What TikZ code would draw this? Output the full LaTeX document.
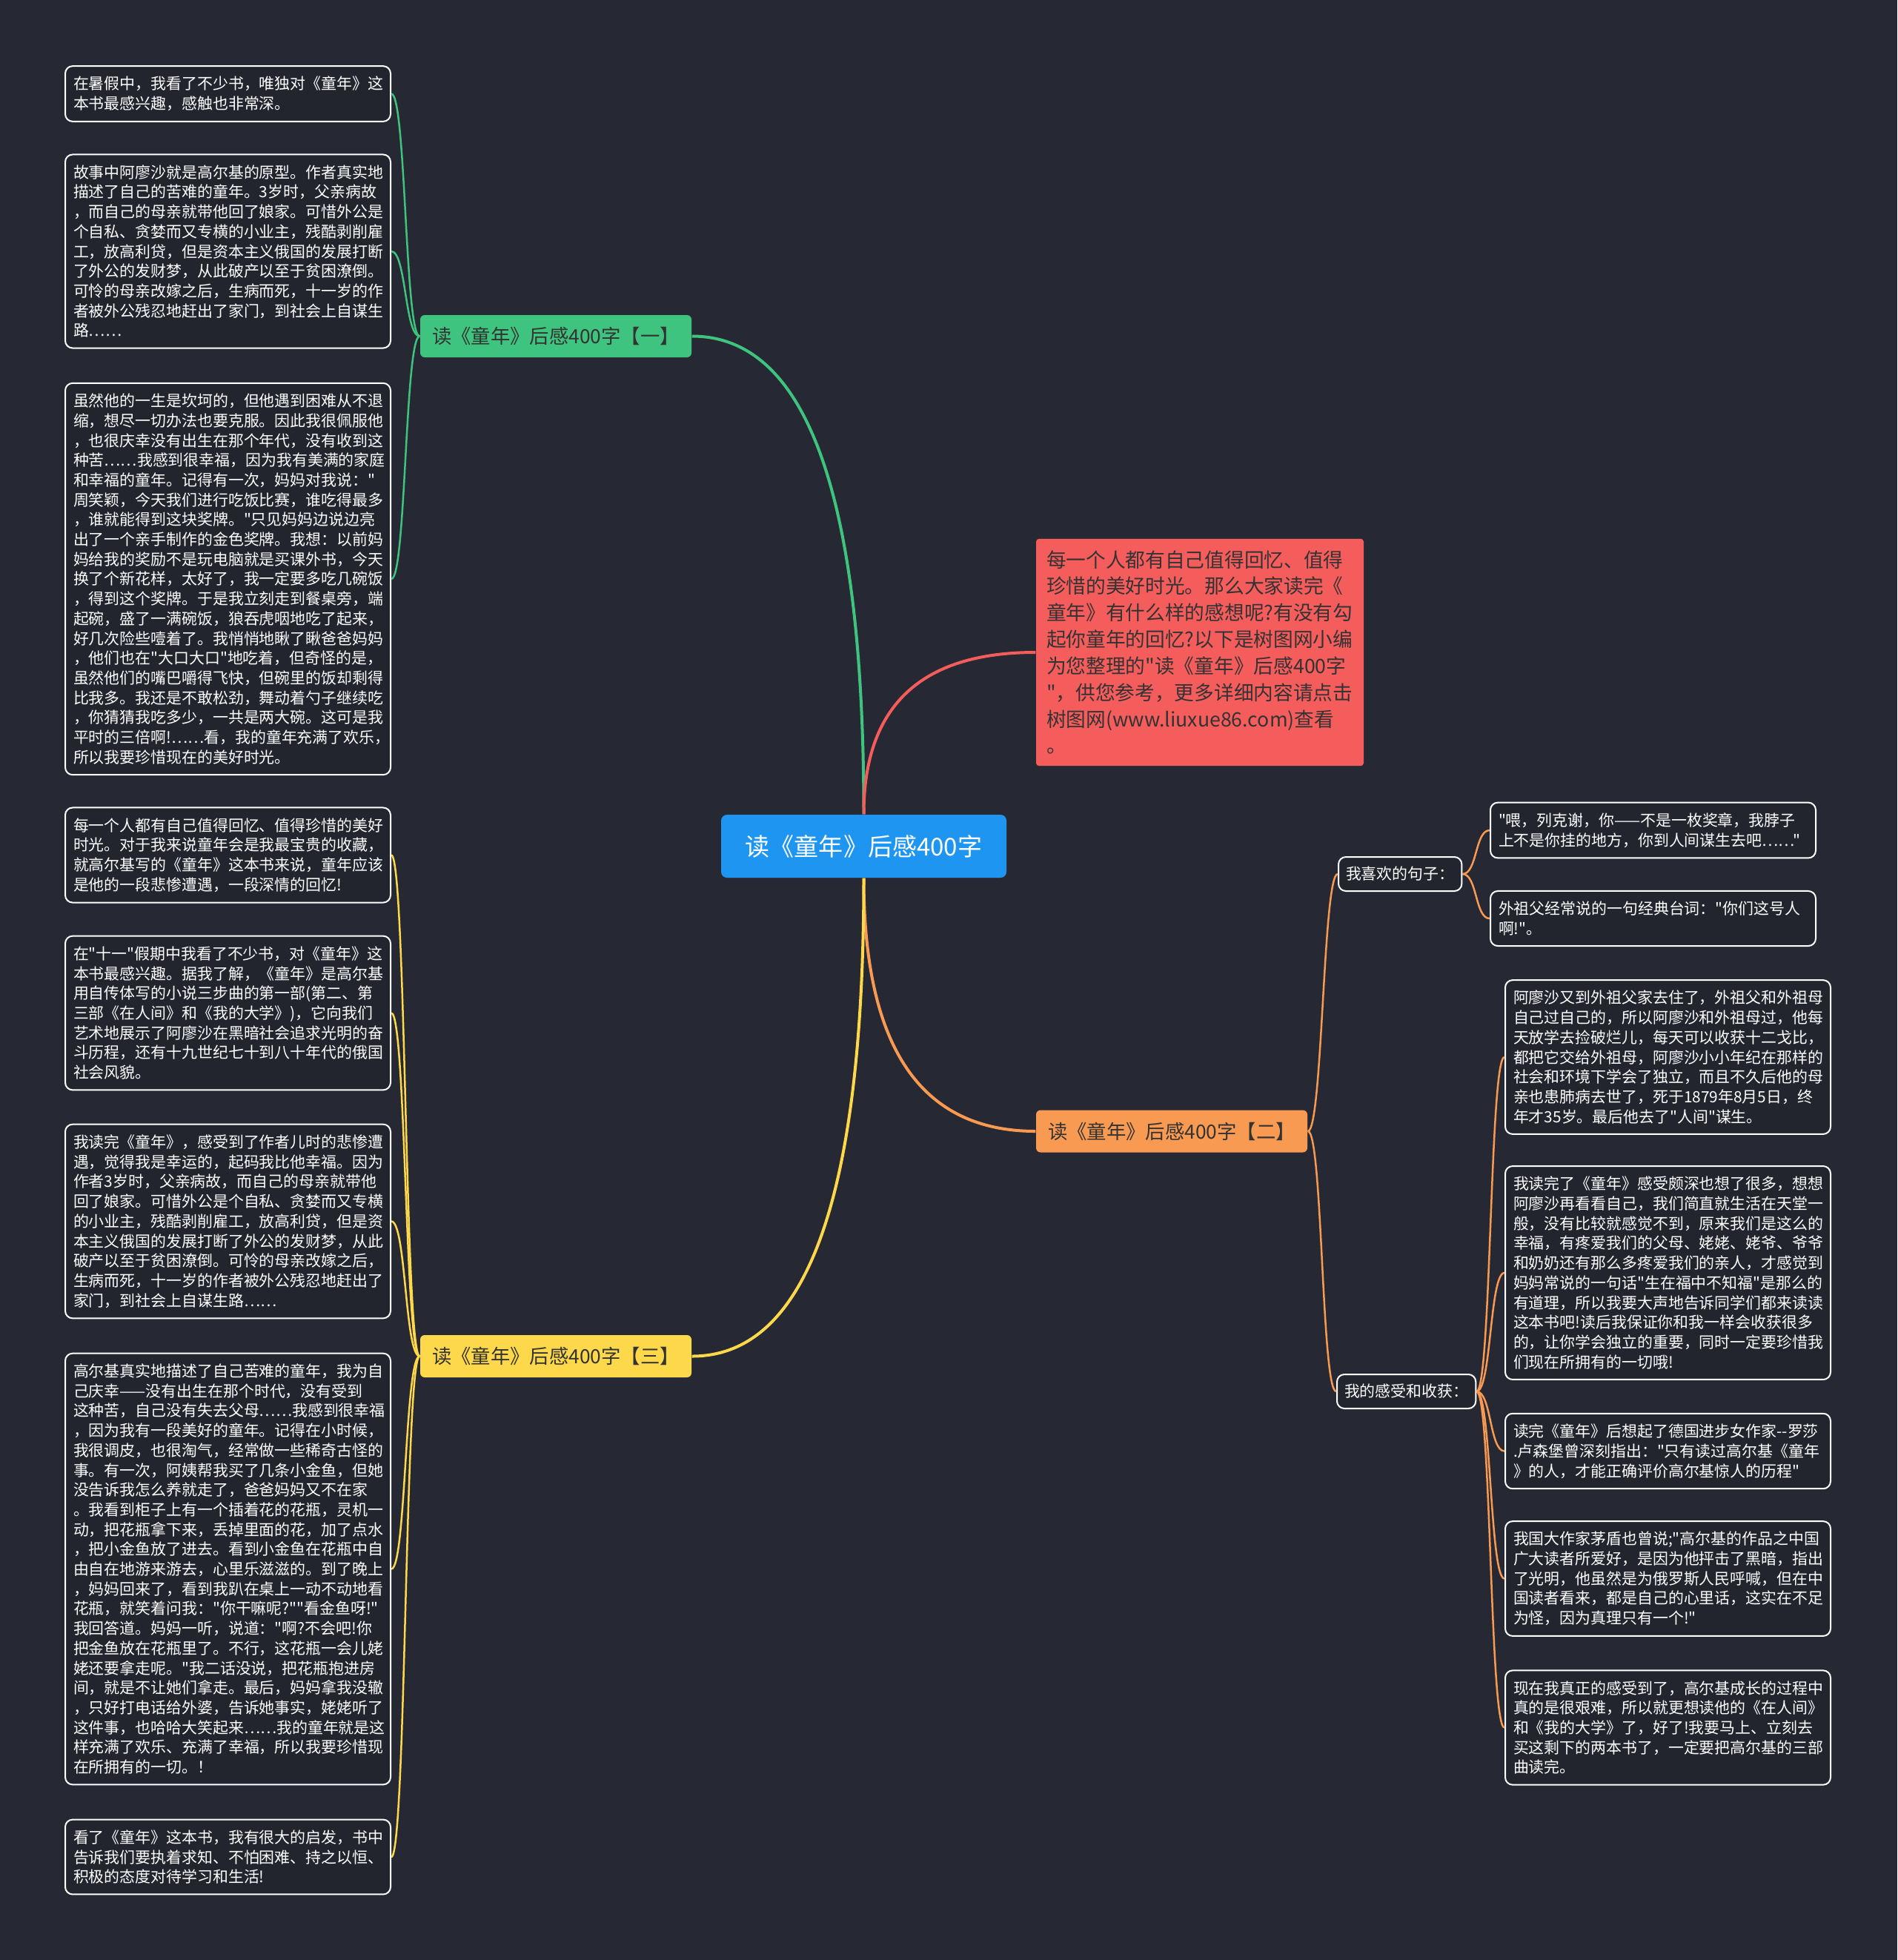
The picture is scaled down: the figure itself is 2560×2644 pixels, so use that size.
\documentclass[tikz,border=0pt]{standalone}
\usepackage{fontspec}
\newfontfamily\cjk{Noto Sans CJK SC}[Ligatures=TeXOff]
\usepackage{tikz}
\usetikzlibrary{positioning}
\usepackage{xcolor}
\definecolor{bgdark}{HTML}{262933}
\definecolor{leafdark}{HTML}{22252E}
\definecolor{rootblue}{HTML}{1F95F2}
\definecolor{introred}{HTML}{F55D5D}
\definecolor{brgreen}{HTML}{3FC47F}
\definecolor{brorange}{HTML}{F99A52}
\definecolor{bryellow}{HTML}{FCD84A}
\definecolor{darktext}{HTML}{333333}

\begin{document}
\begin{tikzpicture}[x=0.1mm, y=-0.1mm,
    leaf/.style={draw=white, line width=0.2mm, fill=leafdark, rounded corners=1mm, text=white, text width=41.7mm, align=left, inner xsep=1.1mm, inner ysep=1.4mm, font=\cjk\fontsize{5.95}{7.6}\selectfont},
    sublabel/.style={draw=white, line width=0.2mm, fill=leafdark, rounded corners=1mm, text=white, inner xsep=1mm, minimum height=4.6mm, font=\cjk\fontsize{5.95}{7.6}\selectfont},
    branch/.style={fill=#1, rounded corners=0.6mm, text=darktext, minimum width=36.6mm, minimum height=5.7mm, inner sep=0.5mm, font=\cjk\fontsize{7.5}{9}\selectfont},
    limb/.style={draw=#1, line width=0.4mm},
    twig/.style={draw=#1, line width=0.25mm}]
\fill[bgdark] (0,0) rectangle (2560,2644);

% centre and first level
\node[fill=rootblue, rounded corners=0.8mm, text=white, minimum width=38.5mm, minimum height=8.5mm, font=\cjk\fontsize{9.4}{11}\selectfont] (root) at (1165.5,1141.5) {读《童年》后感400字};
\node[fill=introred, rounded corners=0.4mm, text=darktext, text width=41.4mm, align=left, inner xsep=1.4mm, inner ysep=1.56mm, font=\cjk\fontsize{7.6}{10.2}\selectfont] (intro) at (1619,880) {每一个人都有自己值得回忆、值得\\珍惜的美好时光。那么大家读完《\\童年》有什么样的感想呢?有没有勾\\起你童年的回忆?以下是树图网小编\\为您整理的"读《童年》后感400字\\"，供您参考，更多详细内容请点击\\树图网(www.liuxue86.com)查看\\。};
\node[branch=brgreen] (br1) at (750,453.5) {读《童年》后感400字【一】};
\node[branch=brorange] (br2) at (1581,1526) {读《童年》后感400字【二】};
\node[branch=bryellow] (br3) at (750,1829.5) {读《童年》后感400字【三】};

% left leaves
\node[leaf, anchor=east] (l1) at (528,126.5) {在暑假中，我看了不少书，唯独对《童年》这\\本书最感兴趣，感触也非常深。};
\node[leaf, anchor=east] (l2) at (528,339) {故事中阿廖沙就是高尔基的原型。作者真实地\\描述了自己的苦难的童年。3岁时，父亲病故\\，而自己的母亲就带他回了娘家。可惜外公是\\个自私、贪婪而又专横的小业主，残酷剥削雇\\工，放高利贷，但是资本主义俄国的发展打断\\了外公的发财梦，从此破产以至于贫困潦倒。\\可怜的母亲改嫁之后，生病而死，十一岁的作\\者被外公残忍地赶出了家门，到社会上自谋生\\路……};
\node[leaf, anchor=east] (l3) at (528,781) {虽然他的一生是坎坷的，但他遇到困难从不退\\缩，想尽一切办法也要克服。因此我很佩服他\\，也很庆幸没有出生在那个年代，没有收到这\\种苦……我感到很幸福，因为我有美满的家庭\\和幸福的童年。记得有一次，妈妈对我说："\\周笑颖，今天我们进行吃饭比赛，谁吃得最多\\，谁就能得到这块奖牌。"只见妈妈边说边亮\\出了一个亲手制作的金色奖牌。我想：以前妈\\妈给我的奖励不是玩电脑就是买课外书，今天\\换了个新花样，太好了，我一定要多吃几碗饭\\，得到这个奖牌。于是我立刻走到餐桌旁，端\\起碗，盛了一满碗饭，狼吞虎咽地吃了起来，\\好几次险些噎着了。我悄悄地瞅了瞅爸爸妈妈\\，他们也在"大口大口"地吃着，但奇怪的是，\\虽然他们的嘴巴嚼得飞快，但碗里的饭却剩得\\比我多。我还是不敢松劲，舞动着勺子继续吃\\，你猜猜我吃多少，一共是两大碗。这可是我\\平时的三倍啊!……看，我的童年充满了欢乐，\\所以我要珍惜现在的美好时光。};
\node[leaf, anchor=east] (l4) at (528,1153.5) {每一个人都有自己值得回忆、值得珍惜的美好\\时光。对于我来说童年会是我最宝贵的收藏，\\就高尔基写的《童年》这本书来说，童年应该\\是他的一段悲惨遭遇，一段深情的回忆!};
\node[leaf, anchor=east] (l5) at (528,1366.5) {在"十一"假期中我看了不少书，对《童年》这\\本书最感兴趣。据我了解，《童年》是高尔基\\用自传体写的小说三步曲的第一部(第二、第\\三部《在人间》和《我的大学》)，它向我们\\艺术地展示了阿廖沙在黑暗社会追求光明的奋\\斗历程，还有十九世纪七十到八十年代的俄国\\社会风貌。};
\node[leaf, anchor=east] (l6) at (528,1647.5) {我读完《童年》，感受到了作者儿时的悲惨遭\\遇，觉得我是幸运的，起码我比他幸福。因为\\作者3岁时，父亲病故，而自己的母亲就带他\\回了娘家。可惜外公是个自私、贪婪而又专横\\的小业主，残酷剥削雇工，放高利贷，但是资\\本主义俄国的发展打断了外公的发财梦，从此\\破产以至于贫困潦倒。可怜的母亲改嫁之后，\\生病而死，十一岁的作者被外公残忍地赶出了\\家门，到社会上自谋生路……};
\node[leaf, anchor=east] (l7) at (528,2116.5) {高尔基真实地描述了自己苦难的童年，我为自\\己庆幸——没有出生在那个时代，没有受到\\这种苦，自己没有失去父母……我感到很幸福\\，因为我有一段美好的童年。记得在小时候，\\我很调皮，也很淘气，经常做一些稀奇古怪的\\事。有一次，阿姨帮我买了几条小金鱼，但她\\没告诉我怎么养就走了，爸爸妈妈又不在家\\。我看到柜子上有一个插着花的花瓶，灵机一\\动，把花瓶拿下来，丢掉里面的花，加了点水\\，把小金鱼放了进去。看到小金鱼在花瓶中自\\由自在地游来游去，心里乐滋滋的。到了晚上\\，妈妈回来了，看到我趴在桌上一动不动地看\\花瓶，就笑着问我："你干嘛呢?""看金鱼呀!"\\我回答道。妈妈一听，说道："啊?不会吧!你\\把金鱼放在花瓶里了。不行，这花瓶一会儿姥\\姥还要拿走呢。"我二话没说，把花瓶抱进房\\间，就是不让她们拿走。最后，妈妈拿我没辙\\，只好打电话给外婆，告诉她事实，姥姥听了\\这件事，也哈哈大笑起来……我的童年就是这\\样充满了欢乐、充满了幸福，所以我要珍惜现\\在所拥有的一切。！};
\node[leaf, anchor=east] (l8) at (528,2505) {看了《童年》这本书，我有很大的启发，书中\\告诉我们要执着求知、不怕困难、持之以恒、\\积极的态度对待学习和生活!};

% right side
\node[sublabel, anchor=west] (sa) at (1805,1179) {我喜欢的句子：};
\node[sublabel, anchor=west] (sb) at (1803,1877) {我的感受和收获：};
\node[leaf, anchor=west] (r1) at (2010,1120) {"喂，列克谢，你——不是一枚奖章，我脖子\\上不是你挂的地方，你到人间谋生去吧……"};
\node[leaf, anchor=west] (r2) at (2010,1239) {外祖父经常说的一句经典台词："你们这号人\\啊!"。};
\node[leaf, anchor=west] (r3) at (2030,1426) {阿廖沙又到外祖父家去住了，外祖父和外祖母\\自己过自己的，所以阿廖沙和外祖母过，他每\\天放学去捡破烂儿，每天可以收获十二戈比，\\都把它交给外祖母，阿廖沙小小年纪在那样的\\社会和环境下学会了独立，而且不久后他的母\\亲也患肺病去世了，死于1879年8月5日，终\\年才35岁。最后他去了"人间"谋生。};
\node[leaf, anchor=west] (r4) at (2030,1717) {我读完了《童年》感受颇深也想了很多，想想\\阿廖沙再看看自己，我们简直就生活在天堂一\\般，没有比较就感觉不到，原来我们是这么的\\幸福，有疼爱我们的父母、姥姥、姥爷、爷爷\\和奶奶还有那么多疼爱我们的亲人，才感觉到\\妈妈常说的一句话"生在福中不知福"是那么的\\有道理，所以我要大声地告诉同学们都来读读\\这本书吧!读后我保证你和我一样会收获很多\\的，让你学会独立的重要，同时一定要珍惜我\\们现在所拥有的一切哦!};
\node[leaf, anchor=west] (r5) at (2030,1957.5) {读完《童年》后想起了德国进步女作家--罗莎\\.卢森堡曾深刻指出："只有读过高尔基《童年\\》的人，才能正确评价高尔基惊人的历程"};
\node[leaf, anchor=west] (r6) at (2030,2129.5) {我国大作家茅盾也曾说;"高尔基的作品之中国\\广大读者所爱好，是因为他抨击了黑暗，指出\\了光明，他虽然是为俄罗斯人民呼喊，但在中\\国读者看来，都是自己的心里话，这实在不足\\为怪，因为真理只有一个!"};
\node[leaf, anchor=west] (r7) at (2030,2330.5) {现在我真正的感受到了，高尔基成长的过程中\\真的是很艰难，所以就更想读他的《在人间》\\和《我的大学》了，好了!我要马上、立刻去\\买这剩下的两本书了，一定要把高尔基的三部\\曲读完。};

% main branches
\draw[limb=brgreen] (root.north) .. controls +(0,-430) and +(155,0) .. (br1.east);
\draw[limb=introred] (root.north) .. controls +(0,-146) and +(-155,0) .. (intro.west);
\draw[limb=brorange] (root.south) .. controls +(0,228) and +(-155,0) .. (br2.west);
\draw[limb=bryellow] (root.south) .. controls +(0,430) and +(155,0) .. (br3.east);

% twigs
\draw[twig=brgreen] (br1.west) .. controls +(-20,0) and +(20,0) .. (l1.east);
\draw[twig=brgreen] (br1.west) .. controls +(-20,0) and +(20,0) .. (l2.east);
\draw[twig=brgreen] (br1.west) .. controls +(-20,0) and +(20,0) .. (l3.east);
\draw[twig=bryellow] (br3.west) .. controls +(-20,0) and +(20,0) .. (l4.east);
\draw[twig=bryellow] (br3.west) .. controls +(-20,0) and +(20,0) .. (l5.east);
\draw[twig=bryellow] (br3.west) .. controls +(-20,0) and +(20,0) .. (l6.east);
\draw[twig=bryellow] (br3.west) .. controls +(-20,0) and +(20,0) .. (l7.east);
\draw[twig=bryellow] (br3.west) .. controls +(-20,0) and +(20,0) .. (l8.east);
\draw[twig=brorange] (br2.east) .. controls +(20,0) and +(-20,0) .. (sa.west);
\draw[twig=brorange] (br2.east) .. controls +(20,0) and +(-20,0) .. (sb.west);
\draw[twig=brorange] (sa.east) .. controls +(20,0) and +(-20,0) .. (r1.west);
\draw[twig=brorange] (sa.east) .. controls +(20,0) and +(-20,0) .. (r2.west);
\draw[twig=brorange] (sb.east) .. controls +(20,0) and +(-20,0) .. (r3.west);
\draw[twig=brorange] (sb.east) .. controls +(20,0) and +(-20,0) .. (r4.west);
\draw[twig=brorange] (sb.east) .. controls +(20,0) and +(-20,0) .. (r5.west);
\draw[twig=brorange] (sb.east) .. controls +(20,0) and +(-20,0) .. (r6.west);
\draw[twig=brorange] (sb.east) .. controls +(20,0) and +(-20,0) .. (r7.west);
\end{tikzpicture}
\end{document}
